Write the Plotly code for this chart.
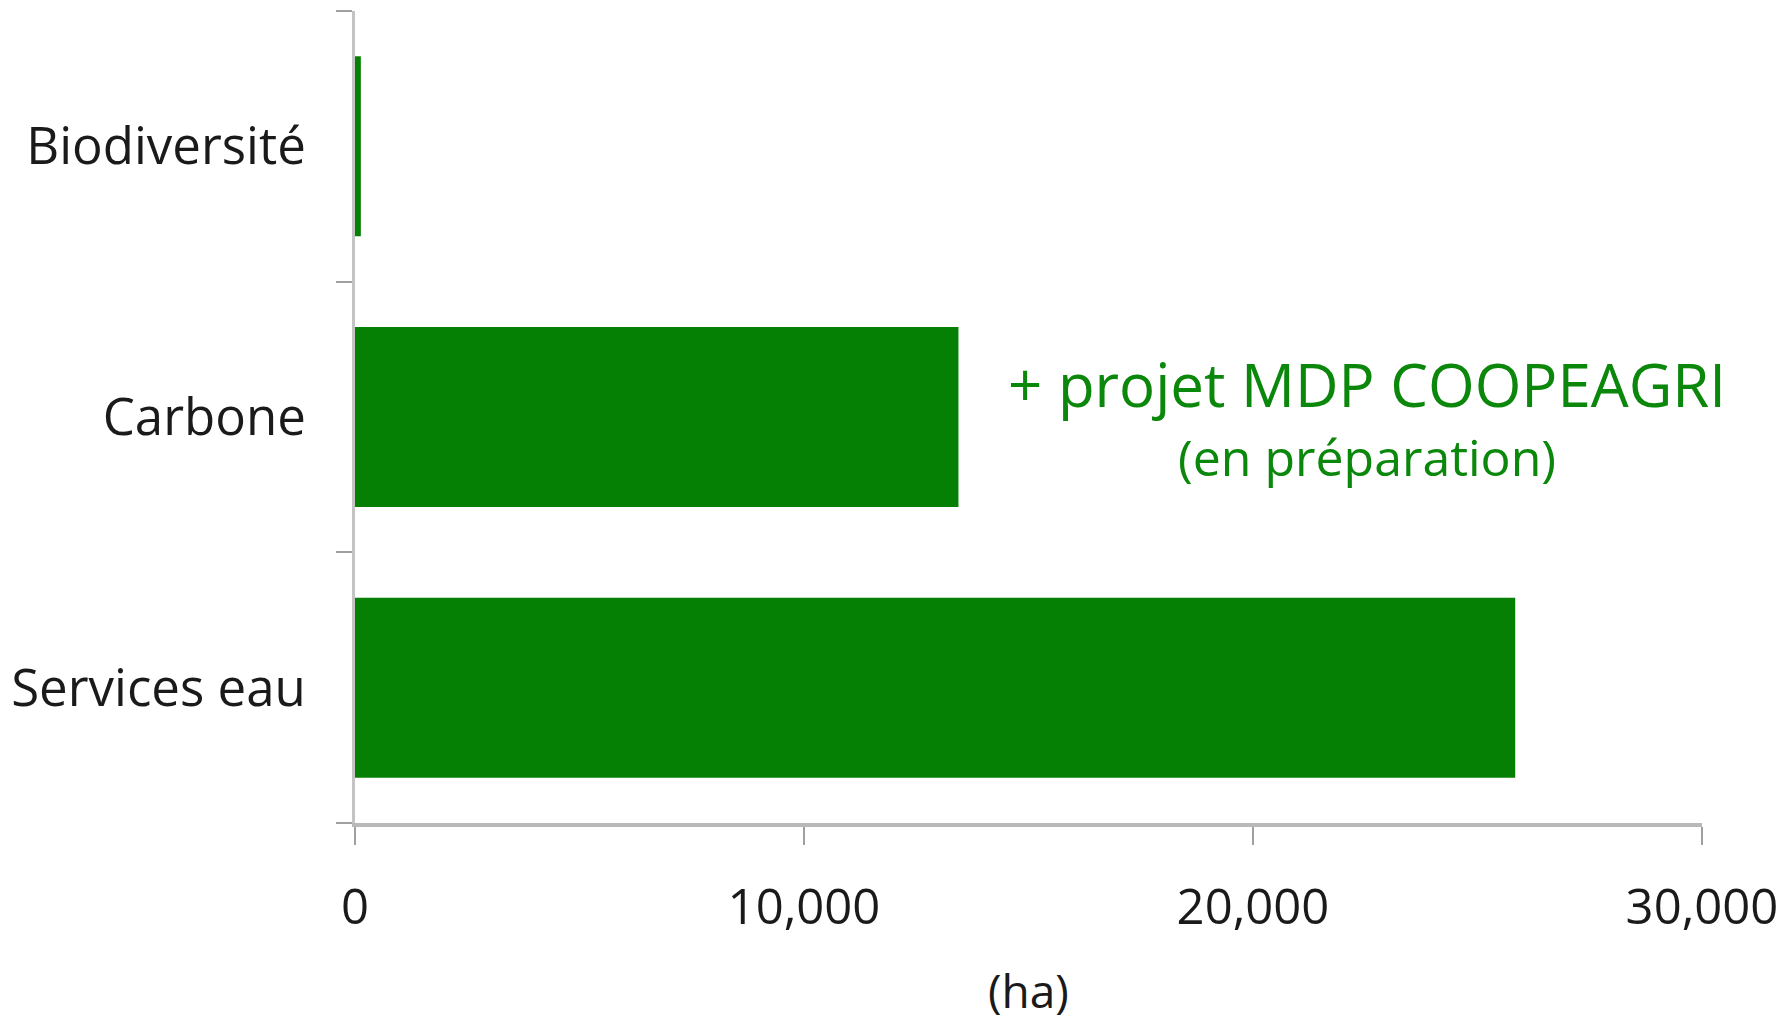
import plotly.graph_objects as go

categories = ["Biodiversité", "Carbone", "Services eau"]
values_ha = [130, 13440, 25840]
x_ticks = [0, 10000, 20000, 30000]
x_tick_labels = ["0", "10,000", "20,000", "30,000"]
note_line1 = "+ projet MDP COOPEAGRI"
note_line2 = "(en préparation)"
x_title = "(ha)"

GREEN = "#058005"
FONT = "Open Sans"

fig = go.Figure()
fig.add_trace(go.Bar(
    y=categories,
    x=values_ha,
    orientation="h",
    marker=dict(color=GREEN, line=dict(width=0)),
    width=0.665,
    hoverinfo="skip",
))

fig.update_layout(
    width=1779, height=1015,
    margin=dict(l=344, r=85, t=3, b=200),
    paper_bgcolor="white", plot_bgcolor="white",
    showlegend=False,
    font=dict(family=FONT, color="#1a1a1a"),
)

fig.update_xaxes(
    range=[0, 30000],
    tickvals=x_ticks, ticktext=x_tick_labels,
    tickfont=dict(size=49, family=FONT, color="#1a1a1a"),
    showgrid=False, zeroline=False,
    showline=True, linecolor="#b8b8b8", linewidth=4,
    ticks="outside", ticklen=18, tickwidth=2, tickcolor="#a0a0a0",
    ticklabelstandoff=20,
)
fig.update_yaxes(
    categoryorder="array", categoryarray=categories[::-1],
    tickfont=dict(size=51, family=FONT, color="#1a1a1a"),
    showgrid=False, zeroline=False,
    showline=True, linecolor="#c4c4c4", linewidth=3,
    ticks="outside", ticklen=16, tickwidth=2, tickcolor="#a0a0a0",
    tickson="boundaries",
    ticklabelstandoff=36,
)

fig.add_annotation(
    x=22533, y="Carbone", xref="x", yref="y",
    text=note_line1, showarrow=False, yshift=33,
    xanchor="center", yanchor="middle",
    font=dict(size=60, family=FONT, color="#0b870b"),
)
fig.add_annotation(
    x=22533, y="Carbone", xref="x", yref="y",
    text=note_line2, showarrow=False, yshift=-40,
    xanchor="center", yanchor="middle",
    font=dict(size=50, family=FONT, color="#0b870b"),
)
fig.add_annotation(
    x=15000, y=-0.2057, xref="x", yref="paper",
    text=x_title, showarrow=False,
    xanchor="center", yanchor="middle",
    font=dict(size=46, family=FONT, color="#1a1a1a"),
)

fig.write_html("out.html")
